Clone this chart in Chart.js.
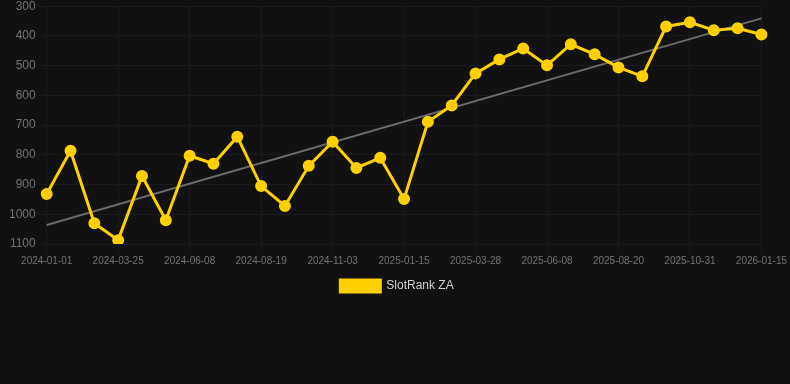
<!DOCTYPE html>
<html>
<head>
<meta charset="utf-8">
<script src="https://cdn.jsdelivr.net/npm/chart.js@4.4.1/dist/chart.umd.min.js"></script>
<style>
  html, body { margin: 0; padding: 0; background: #111111; }
  #wrap { width: 790px; height: 306px; position: relative; margin-top: -4px; }
</style>
</head>
<body>
<div id="wrap"><canvas id="rankChart"></canvas></div>
<script>
// dates on the x axis (every third one is printed)
const dateLabels = [
  '2024-01-01', '2024-01-29', '2024-02-26', '2024-03-25', '2024-04-19', '2024-05-14',
  '2024-06-08', '2024-07-02', '2024-07-26', '2024-08-19', '2024-09-13', '2024-10-08',
  '2024-11-03', '2024-11-27', '2024-12-21', '2025-01-15', '2025-02-08', '2025-03-04',
  '2025-03-28', '2025-04-21', '2025-05-15', '2025-06-08', '2025-07-02', '2025-07-26',
  '2025-08-20', '2025-09-13', '2025-10-07', '2025-10-31', '2025-11-25', '2025-12-20',
  '2026-01-15'
];

// SlotRank ZA position over time
const rankValues = [
  932, 786, 1030, 1087, 871, 1020, 803, 830, 739, 905, 972,
  837, 756, 844, 810, 949, 689, 634, 526, 479, 442, 499,
  428, 462, 506, 536, 368, 354, 381, 374, 395
];

// trend line, first and last value
const trendEnds = [1036, 341];

const yTicks = [300, 400, 500, 600, 700, 800, 900, 1000, 1100];

const trendData = dateLabels.map((d, i) => {
  if (i === 0) return trendEnds[0];
  if (i === dateLabels.length - 1) return trendEnds[1];
  return null;
});

const gridColor = '#1b1b1b';
const tickColor = '#727272';

new Chart(document.getElementById('rankChart'), {
  type: 'line',
  data: {
    labels: dateLabels,
    datasets: [
      {
        label: 'SlotRank ZA',
        data: rankValues,
        borderColor: '#ffd000',
        backgroundColor: '#ffd000',
        borderWidth: 3,
        pointRadius: 4.5,
        pointHoverRadius: 5,
        tension: 0
      },
      {
        label: 'trend',
        data: trendData,
        spanGaps: true,
        borderColor: '#6a6a6a',
        borderWidth: 2,
        pointRadius: 0,
        pointHoverRadius: 0
      }
    ]
  },
  options: {
    responsive: true,
    maintainAspectRatio: false,
    animation: false,
    layout: { padding: { left: 6, right: 2, top: 0, bottom: 0 } },
    scales: {
      x: {
        grid: { color: gridColor },
        border: { color: gridColor },
        ticks: {
          color: tickColor,
          font: { family: 'Liberation Sans, Arial', size: 10 },
          autoSkip: false,
          maxRotation: 0,
          callback: function (val, idx) {
            return idx % 3 === 0 ? dateLabels[idx] : null;
          }
        }
      },
      y: {
        reverse: true,
        min: 300,
        max: 1100,
        grid: { color: gridColor },
        border: { color: gridColor },
        afterBuildTicks: function (axis) {
          axis.ticks = yTicks.map(v => ({ value: v }));
        },
        ticks: {
          color: tickColor,
          font: { family: 'Liberation Sans, Arial', size: 12 },
          callback: v => String(v)
        }
      }
    },
    plugins: {
      tooltip: { enabled: false },
      legend: {
        position: 'bottom',
        labels: {
          color: '#d0d0d0',
          font: { family: 'Liberation Sans, Arial', size: 12 },
          boxWidth: 40,
          boxHeight: 12,
          filter: item => item.datasetIndex === 0
        }
      }
    }
  }
});
</script>
</body>
</html>
